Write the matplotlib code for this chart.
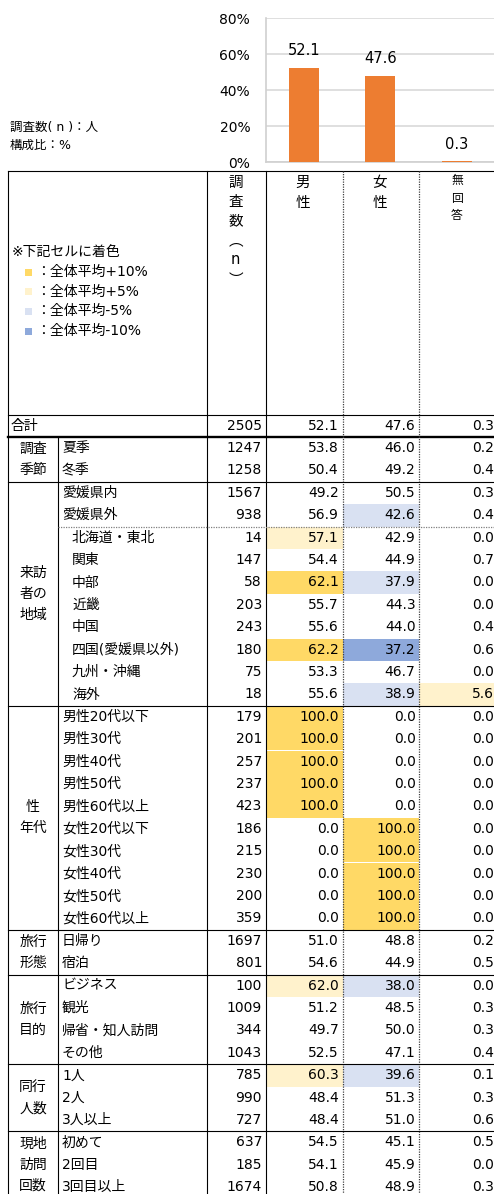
import matplotlib
matplotlib.use('Agg')
import matplotlib.pyplot as plt
from matplotlib.patches import Rectangle

# Latin letters and digits from DejaVu (wide, like the original), kana/kanji from Noto
plt.rcParams['font.family'] = ['DejaVu Sans', 'Noto Sans CJK JP']

# ---- data ----
categories = ['男性', '女性', '無回答']
total_share = [52.1, 47.6, 0.3]
y_ticks = [0, 20, 40, 60, 80]

group_names = ['調査\n季節', '来訪\n者の\n地域', '性\n年代', '旅行\n形態',
               '旅行\n目的', '同行\n人数', '現地\n訪問\n回数']
group_sizes = [2, 10, 10, 2, 4, 3, 3]

row_labels = ['合計',
              '夏季', '冬季',
              '愛媛県内', '愛媛県外', '北海道・東北', '関東', '中部', '近畿', '中国',
              '四国(愛媛県以外)', '九州・沖縄', '海外',
              '男性20代以下', '男性30代', '男性40代', '男性50代', '男性60代以上',
              '女性20代以下', '女性30代', '女性40代', '女性50代', '女性60代以上',
              '日帰り', '宿泊',
              'ビジネス', '観光', '帰省・知人訪問', 'その他',
              '1人', '2人', '3人以上',
              '初めて', '2回目', '3回目以上']
sub_regions = ['北海道・東北', '関東', '中部', '近畿', '中国',
               '四国(愛媛県以外)', '九州・沖縄', '海外']

n_values = [2505, 1247, 1258, 1567, 938, 14, 147, 58, 203, 243, 180, 75, 18,
            179, 201, 257, 237, 423, 186, 215, 230, 200, 359,
            1697, 801, 100, 1009, 344, 1043, 785, 990, 727, 637, 185, 1674]
male = [52.1, 53.8, 50.4, 49.2, 56.9, 57.1, 54.4, 62.1, 55.7, 55.6, 62.2, 53.3, 55.6,
        100.0, 100.0, 100.0, 100.0, 100.0, 0.0, 0.0, 0.0, 0.0, 0.0,
        51.0, 54.6, 62.0, 51.2, 49.7, 52.5, 60.3, 48.4, 48.4, 54.5, 54.1, 50.8]
female = [47.6, 46.0, 49.2, 50.5, 42.6, 42.9, 44.9, 37.9, 44.3, 44.0, 37.2, 46.7, 38.9,
          0.0, 0.0, 0.0, 0.0, 0.0, 100.0, 100.0, 100.0, 100.0, 100.0,
          48.8, 44.9, 38.0, 48.5, 50.0, 47.1, 39.6, 51.3, 51.0, 45.1, 45.9, 48.9]
no_answer = [0.3, 0.2, 0.4, 0.3, 0.4, 0.0, 0.7, 0.0, 0.0, 0.4, 0.6, 0.0, 5.6,
             0.0, 0.0, 0.0, 0.0, 0.0, 0.0, 0.0, 0.0, 0.0, 0.0,
             0.2, 0.5, 0.0, 0.3, 0.3, 0.4, 0.1, 0.3, 0.6, 0.5, 0.0, 0.3]

# highlighted cells: (row label, column 0=男性 1=女性 2=無回答) -> level
highlights = {
    ('愛媛県外', 1): 'm5',
    ('北海道・東北', 0): 'p5',
    ('中部', 0): 'p10', ('中部', 1): 'm5',
    ('四国(愛媛県以外)', 0): 'p10', ('四国(愛媛県以外)', 1): 'm10',
    ('海外', 1): 'm5', ('海外', 2): 'p5',
    ('男性20代以下', 0): 'p10', ('男性30代', 0): 'p10', ('男性40代', 0): 'p10',
    ('男性50代', 0): 'p10', ('男性60代以上', 0): 'p10',
    ('女性20代以下', 1): 'p10', ('女性30代', 1): 'p10', ('女性40代', 1): 'p10',
    ('女性50代', 1): 'p10', ('女性60代以上', 1): 'p10',
    ('ビジネス', 0): 'p5', ('ビジネス', 1): 'm5',
    ('1人', 0): 'p5', ('1人', 1): 'm5',
}
legend_items = [('p10', '：全体平均+10%'), ('p5', '：全体平均+5%'),
                ('m5', '：全体平均-5%'), ('m10', '：全体平均-10%')]
fill_colors = {'p10': '#FFD966', 'p5': '#FFF2CC', 'm5': '#D9E1F2', 'm10': '#8EA9DB'}

# ---- figure ----
W, H = 494, 1194
fig = plt.figure(figsize=(W / 100, H / 100), dpi=100)

# table layer in pixel coordinates
tab = fig.add_axes([0, 0, 1, 1])
tab.set_xlim(0, W)
tab.set_ylim(H, 0)
tab.axis('off')

x_left, x_grp, x_lbl, x_n, x_m, x_f, x_r = 8, 58, 207, 265.5, 343, 419, 500
col_edges = [x_n, x_m, x_f, x_r]
y_top, y_body, row_h = 171, 414.5, 22.4
fs = 10


def row_y(i):
    return y_body + row_h * i


# cell fills
for i, lab in enumerate(row_labels):
    for c in range(3):
        lvl = highlights.get((lab, c))
        if lvl:
            tab.add_patch(Rectangle((col_edges[c], row_y(i)), col_edges[c + 1] - col_edges[c],
                                    row_h, color=fill_colors[lvl], lw=0, zorder=1))

# lines
k = dict(color='black', lw=0.8, zorder=3)
tab.plot([x_left, W], [y_top, y_top], **k)
tab.plot([x_left, W], [y_body, y_body], **k)
tab.plot([x_left, W], [row_y(1), row_y(1)], color='black', lw=1.7, zorder=3)
for xv in (x_left, x_lbl, x_n):
    tab.plot([xv, xv], [y_top, H], **k)
tab.plot([x_grp, x_grp], [row_y(1), H], **k)
for xv in (x_m, x_f):
    tab.plot([xv, xv], [y_top, H], color='#404040', lw=0.9, ls=(0, (1, 1)), zorder=3)

start = 1
for gname, gsize in zip(group_names, group_sizes):
    end = start + gsize
    if end < len(row_labels):
        tab.plot([x_left, W], [row_y(end), row_y(end)], **k)
    lines = gname.split('\n')
    yc = (row_y(start) + row_y(end)) / 2
    for j, ln in enumerate(lines):
        tab.text(33, yc + (j - (len(lines) - 1) / 2) * 21, ln, ha='center',
                 va='center', fontsize=fs, zorder=4)
    start = end
# dotted separator before sub regions
r = row_labels.index(sub_regions[0])
tab.plot([x_grp, W], [row_y(r), row_y(r)], color='#808080', lw=0.9,
         ls=(0, (1, 1)), zorder=3)

# row texts
for i, lab in enumerate(row_labels):
    yc = row_y(i) + row_h / 2
    if i == 0:
        xt = 11
    elif lab in sub_regions:
        xt = 72
    else:
        xt = 62
    tab.text(xt, yc, lab, ha='left', va='center', fontsize=fs, zorder=4)
    tab.text(262, yc, f'{n_values[i]}', ha='right', va='center', fontsize=fs, zorder=4)
    tab.text(339, yc, f'{male[i]:.1f}', ha='right', va='center', fontsize=fs, zorder=4)
    tab.text(415.5, yc, f'{female[i]:.1f}', ha='right', va='center', fontsize=fs, zorder=4)
    tab.text(494, yc, f'{no_answer[i]:.1f}', ha='right', va='center', fontsize=fs, zorder=4)

# header column titles (vertical)
for j, ch in enumerate(['調', '査', '数', '︵', 'n', '︶']):
    tab.text(235.5, 182 + j * 19.5, ch, ha='center', va='center', fontsize=10.5)
for j, ch in enumerate('男性'):
    tab.text(303, 182 + j * 20, ch, ha='center', va='center', fontsize=10.5)
for j, ch in enumerate('女性'):
    tab.text(380, 182 + j * 20, ch, ha='center', va='center', fontsize=10.5)
for j, ch in enumerate('無回答'):
    tab.text(457, 181 + j * 17.5, ch, ha='center', va='center', fontsize=8.5)

# legend inside header
tab.text(12, 252, '※下記セルに着色', ha='left', va='center', fontsize=10)
for j, (lvl, txt) in enumerate(legend_items):
    yy = 272 + j * 19.7
    tab.add_patch(Rectangle((25, yy - 3.5), 7, 7, color=fill_colors[lvl], lw=0))
    tab.text(36, yy, txt, ha='left', va='center', fontsize=10)

# notes
tab.text(10, 127, '調査数( n )：人', ha='left', va='center', fontsize=9)
tab.text(10, 145, '構成比：%', ha='left', va='center', fontsize=9)

# ---- bar chart ----
ax = fig.add_axes([x_n / W, 1 - 162 / H, (495 - x_n) / W, 144 / H])
xs = range(len(categories))
ax.bar(xs, total_share, width=0.39, color='#ED7D31', zorder=3)
for xv, v in zip(xs, total_share):
    ax.annotate(f'{v:.1f}', (xv, v), xytext=(0, 12.5), textcoords='offset points',
                ha='center', va='center', fontsize=10.5)
ax.set_xlim(-0.5, 2.5)
ax.set_ylim(0, 80)
ax.set_yticks(y_ticks)
ax.set_yticklabels([f'{t}%' for t in y_ticks], fontsize=10)
ax.set_xticks([])
ax.tick_params(axis='y', length=0, pad=11)
ax.grid(axis='y', color='#D9D9D9', lw=1.2, zorder=0)
ax.set_axisbelow(True)
for s in ('top', 'right'):
    ax.spines[s].set_visible(False)
for s in ('left', 'bottom'):
    ax.spines[s].set_color('#D0D0D0')
    ax.spines[s].set_linewidth(1.2)
ax.patch.set_alpha(0)

fig.savefig('out.png', dpi=100)
